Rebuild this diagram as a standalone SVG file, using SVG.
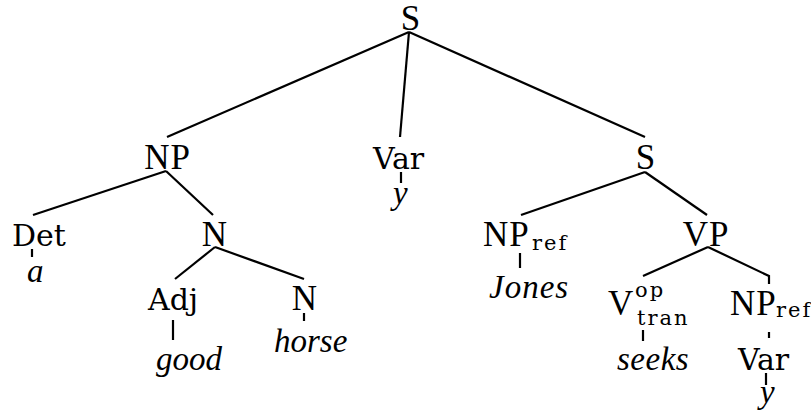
<svg xmlns="http://www.w3.org/2000/svg" width="811" height="411" viewBox="0 0 811 411">
  <style>
    .cat { font-size: 35px; letter-spacing: 1px; fill: #000; }
    .lbl { font-size: 30px; fill: #000; }
    .small { font-size: 21px; letter-spacing: 2px; fill: #000; }
    .word { font-size: 33px; font-style: italic; fill: #000; }
    .edges line, .edges polyline { stroke: #000; stroke-width: 2.2; fill: none; }
  </style>
  <rect width="811" height="411" fill="#fff"/>

  <!-- tree branches -->
  <g id="connectors" class="edges">
    <line x1="409" y1="32" x2="167" y2="137"/>
    <line x1="409" y1="32" x2="400" y2="137"/>
    <line x1="409" y1="32" x2="645" y2="137"/>
    <line x1="166" y1="171" x2="33" y2="215"/>
    <line x1="166" y1="171" x2="213" y2="215"/>
    <line x1="32" y1="249" x2="32" y2="257"/>
    <line x1="401" y1="172" x2="401" y2="183"/>
    <line x1="645" y1="172" x2="521" y2="215"/>
    <line x1="645" y1="172" x2="707" y2="215"/>
    <line x1="520" y1="253" x2="520" y2="268"/>
    <line x1="215" y1="247" x2="175" y2="279"/>
    <line x1="215" y1="247" x2="304" y2="279"/>
    <line x1="173" y1="320" x2="173" y2="340"/>
    <line x1="304" y1="313" x2="304" y2="321"/>
    <line x1="708" y1="247" x2="643" y2="276"/>
    <polyline points="708,247 769,276 769,284"/>
    <line x1="643" y1="330" x2="643" y2="341"/>
    <line x1="769" y1="332" x2="769" y2="338"/>
    <line x1="766" y1="373" x2="766" y2="385"/>
  </g>

  <!-- category labels: roman serif -->
  <g font-family="'Liberation Serif', serif">
    <g id="s-root"><text class="cat" x="411" y="30" text-anchor="middle">S</text></g>
    <g id="np"><text class="cat" x="167.5" y="169" text-anchor="middle">NP</text></g>
    <g id="s-inner"><text class="cat" x="646" y="169" text-anchor="middle">S</text></g>
    <g id="n"><text class="cat" x="215" y="246" text-anchor="middle">N</text></g>
    <g id="np-ref"><text class="cat" x="483" y="246">NP</text><text class="small" x="532" y="250" font-family="'DejaVu Serif', serif">ref</text></g>
    <g id="vp"><text class="cat" x="706" y="246" text-anchor="middle">VP</text></g>
    <g id="n-head"><text class="cat" x="305" y="310" text-anchor="middle">N</text></g>
    <g id="v-tran"><text class="cat" x="608" y="315">V</text><text class="small" x="635" y="297" font-family="'DejaVu Serif', serif">op</text><text class="small" x="637" y="325" font-family="'DejaVu Serif', serif">tran</text></g>
    <g id="np-ref-obj"><text class="cat" x="730" y="315">NP</text><text class="small" x="776" y="317" font-family="'DejaVu Serif', serif" letter-spacing="0.5">ref</text></g>
  </g>

  <!-- category labels: wide serif -->
  <g font-family="'DejaVu Serif', serif">
    <g id="var"><text class="lbl" x="373" y="169">Var</text></g>
    <g id="det"><text class="lbl" x="12" y="246">Det</text></g>
    <g id="adj"><text class="lbl" x="148" y="310">Adj</text></g>
    <g id="var-obj"><text class="lbl" x="738" y="370">Var</text></g>
  </g>

  <!-- words and variables: italic -->
  <g font-family="'Liberation Serif', serif">
    <g id="var-y"><text class="word" x="393" y="204">y</text></g>
    <g id="det-a"><text class="word" x="27" y="282">a</text></g>
    <g id="jones"><text class="word" x="489" y="298" letter-spacing="1">Jones</text></g>
    <g id="good"><text class="word" x="156" y="370">good</text></g>
    <g id="horse"><text class="word" x="274" y="352">horse</text></g>
    <g id="seeks"><text class="word" x="617" y="370" letter-spacing="0.5">seeks</text></g>
    <g id="var-obj-y"><text class="word" x="760" y="403">y</text></g>
  </g>
</svg>
